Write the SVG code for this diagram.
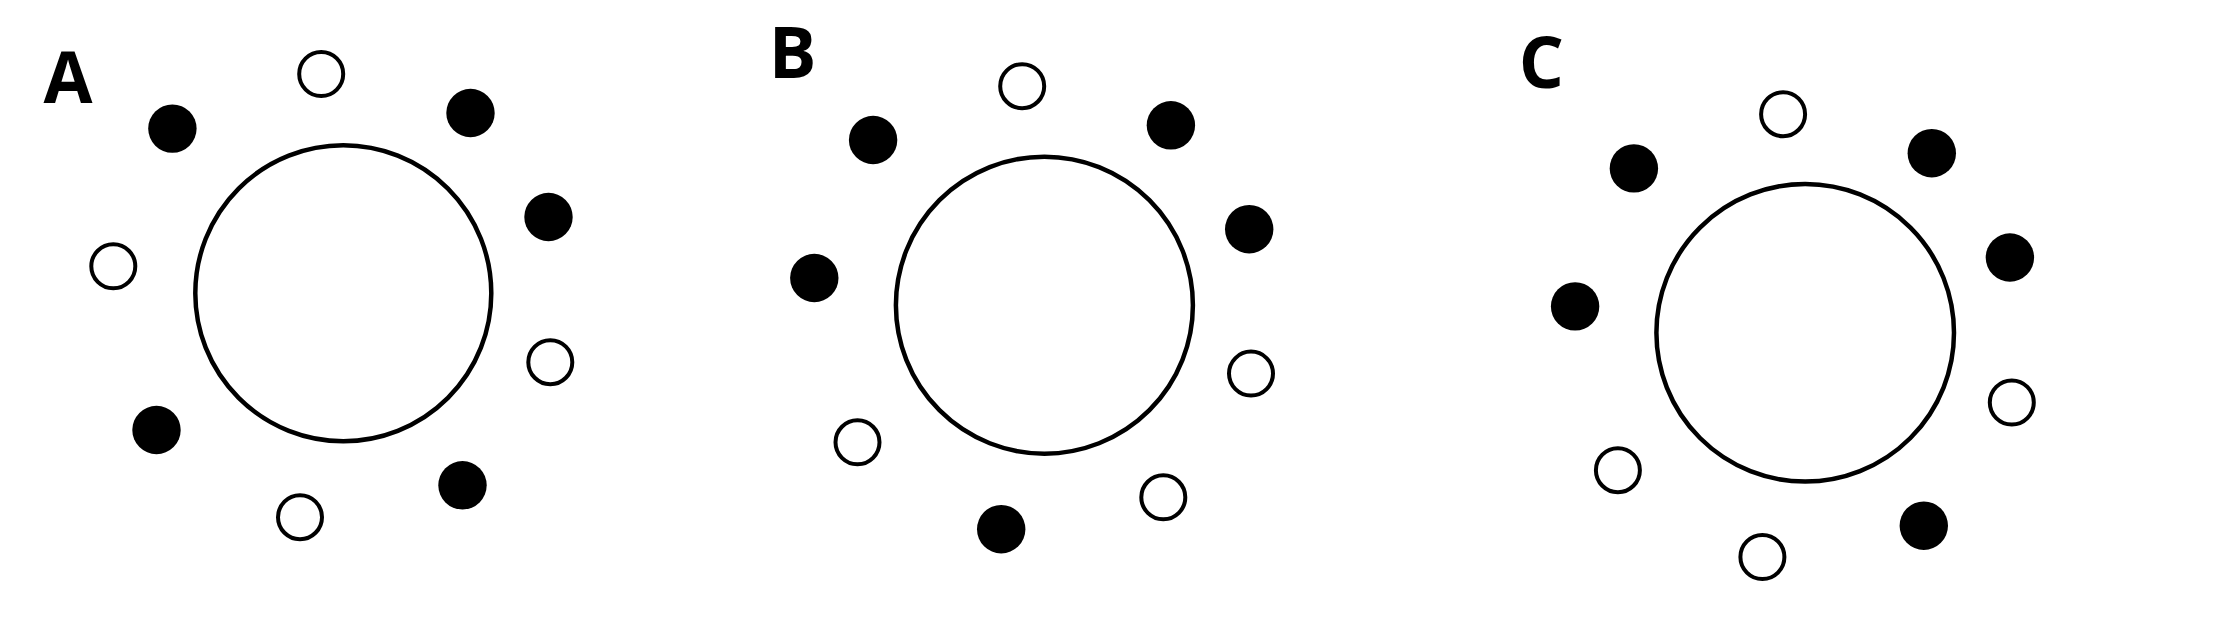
<svg xmlns="http://www.w3.org/2000/svg" width="2218" height="644" viewBox="0 0 2218 644">
<style>
.big{fill:none;stroke:#000;stroke-width:4.5}
.open{fill:#fff;stroke:#000;stroke-width:4}
.fill{fill:#000}
.lbl{font-family:"Open Sans","Liberation Sans",sans-serif;font-weight:700;font-size:71px;fill:#000;text-anchor:middle}
</style>
<rect width="2218" height="644" fill="#fff"/>
<g id="panelA">
<text class="lbl" x="68" y="102.5">A</text>
<circle class="big" cx="343.3" cy="293.2" r="148"/>
<circle class="open" cx="321.2" cy="74" r="22"/>
<circle class="fill" cx="172.4" cy="128.6" r="24.2"/>
<circle class="fill" cx="470.5" cy="113" r="24.2"/>
<circle class="fill" cx="548.5" cy="217" r="24.2"/>
<circle class="open" cx="113.3" cy="266.3" r="22"/>
<circle class="open" cx="550.3" cy="362.2" r="22"/>
<circle class="fill" cx="156.5" cy="430" r="24.2"/>
<circle class="fill" cx="462.5" cy="485.3" r="24.2"/>
<circle class="open" cx="300" cy="517.2" r="22"/>
</g>
<g id="panelB">
<text class="lbl" x="792.5" y="77.7">B</text>
<circle class="big" cx="1044.4" cy="305.2" r="148.5"/>
<circle class="open" cx="1022.2" cy="86.2" r="22"/>
<circle class="fill" cx="1170.9" cy="125.3" r="24.2"/>
<circle class="fill" cx="873.1" cy="140" r="24.2"/>
<circle class="fill" cx="1249.2" cy="229.2" r="24.2"/>
<circle class="fill" cx="814.3" cy="278" r="24.2"/>
<circle class="open" cx="1251" cy="373.6" r="22"/>
<circle class="open" cx="857.5" cy="442.3" r="22"/>
<circle class="open" cx="1163.3" cy="497.3" r="22"/>
<circle class="fill" cx="1001.2" cy="529.2" r="24.2"/>
</g>
<g id="panelC">
<text class="lbl" x="1541.4" y="87.5">C</text>
<circle class="big" cx="1805.2" cy="332.8" r="148.8"/>
<circle class="open" cx="1783.1" cy="114.2" r="22"/>
<circle class="fill" cx="1633.9" cy="168.4" r="24.2"/>
<circle class="fill" cx="1931.8" cy="153.2" r="24.2"/>
<circle class="fill" cx="2009.9" cy="257.5" r="24.2"/>
<circle class="fill" cx="1575.1" cy="306.4" r="24.2"/>
<circle class="open" cx="2011.8" cy="402.5" r="22"/>
<circle class="open" cx="1617.9" cy="470.2" r="22"/>
<circle class="fill" cx="1923.8" cy="525.7" r="24.2"/>
<circle class="open" cx="1762.4" cy="557" r="22"/>
</g>
<g id="connectors"/>
</svg>
